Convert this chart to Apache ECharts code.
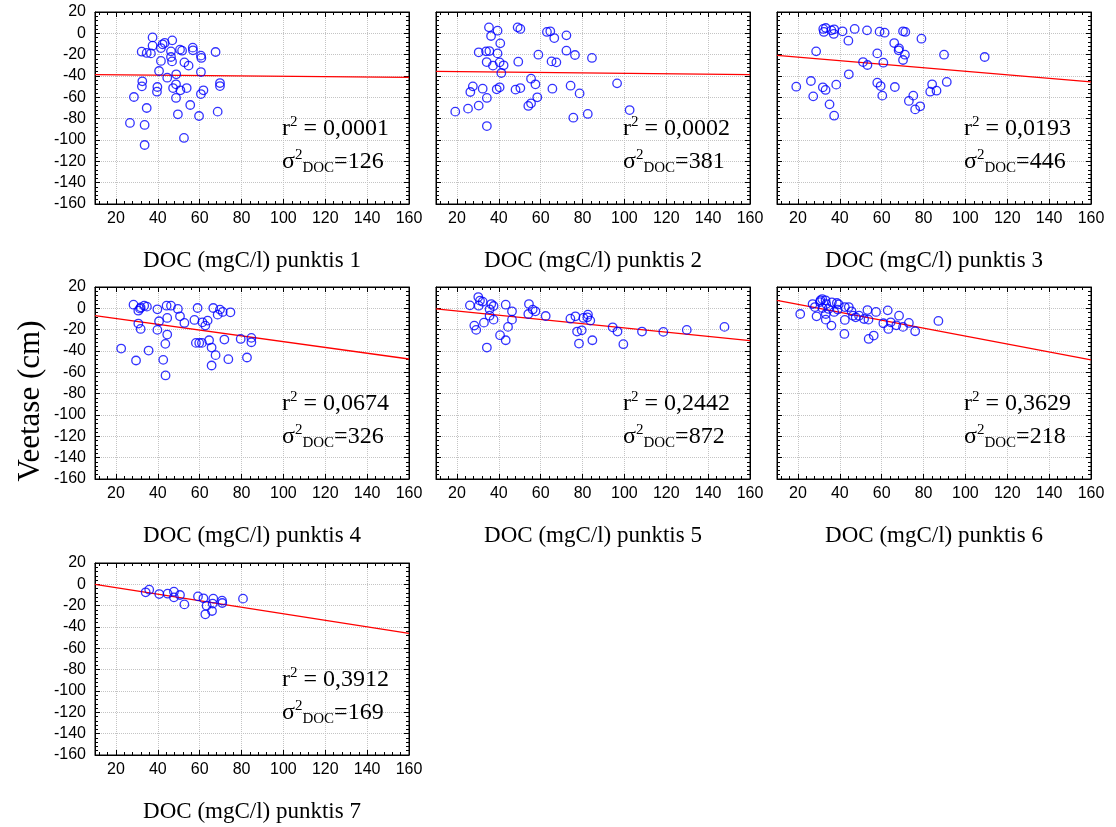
<!DOCTYPE html>
<html><head><meta charset="utf-8">
<script src="https://cdn.jsdelivr.net/npm/echarts@6/dist/echarts.min.js"></script>
<style>html,body{margin:0;padding:0;background:#fff}#c{width:1116px;height:827px}</style>
</head><body><div id="c"></div>
<script>
// ---------- data ----------
const xTickLabels = [20, 40, 60, 80, 100, 120, 140, 160];
const yTickLabels = [20, 0, -20, -40, -60, -80, -100, -120, -140, -160];
const xTitles = ['DOC (mgC/l) punktis 1','DOC (mgC/l) punktis 2','DOC (mgC/l) punktis 3','DOC (mgC/l) punktis 4','DOC (mgC/l) punktis 5','DOC (mgC/l) punktis 6','DOC (mgC/l) punktis 7'];
const yTitle = 'Veetase (cm)';
const r2Values = ['0,0001','0,0002','0,0193','0,0674','0,2442','0,3629','0,3912'];
const sigmaValues = ['126','381','446','326','872','218','169'];
const fitX = [10, 160];
const fit1 = [-38.8, -41.2];
const fit2 = [-35.6, -38.8];
const fit3 = [-20.6, -45.6];
const fit4 = [-6.9, -47.5];
const fit5 = [-0.6, -30.2];
const fit6 = [7.5, -48.4];
const fit7 = [0, -45.9];
const p1 = [[37.5,-3.8],[46.9,-6.6],[43.3,-9],[42.3,-10.3],[41.5,-13.8],[37.5,-11.6],[32.3,-17.2],[34.7,-18.4],[36.7,-18.8],[46.3,-16.9],[50.6,-15.3],[51.6,-16.3],[56.7,-13.4],[56.8,-15.9],[60.6,-20.9],[60.8,-23.1],[67.6,-17.5],[46.3,-22.2],[41.5,-25.9],[46.8,-26.3],[52.7,-27.2],[54.7,-30.3],[40.6,-35.3],[60.6,-36.3],[48.8,-38.4],[44.5,-41.6],[32.6,-45],[32.4,-49.7],[39.8,-50.3],[39.6,-54.7],[47.3,-51.3],[48.7,-47.8],[50.8,-53.4],[53.8,-51.3],[61.8,-53.4],[60.6,-56.9],[69.7,-46.6],[69.7,-49.4],[28.6,-59.7],[48.7,-60.6],[34.7,-70],[55.5,-67.2],[49.6,-75.9],[59.7,-77.5],[68.6,-73.4],[26.7,-84],[33.7,-85.9],[52.5,-98.1],[33.7,-104.7]];
const p2 = [[35.3,5.6],[39.4,2.5],[36.3,-2.5],[49,5.6],[50.3,4.1],[63,1.3],[64.6,1.9],[66.5,-4.4],[72.3,-1.9],[40.7,-9.4],[30.4,-17.8],[33.9,-16.9],[35.5,-16.6],[39.4,-18.8],[58.9,-20],[72.3,-16.3],[76.4,-20.3],[84.5,-23.1],[34.2,-26.9],[37.2,-30.3],[40.4,-27.2],[42.3,-30],[41.2,-37.2],[49.3,-26.6],[65.2,-26.3],[67.5,-27.2],[55.4,-42.5],[57.5,-47.8],[27.6,-49.7],[26.4,-55],[32.3,-51.9],[39,-52.5],[40.4,-50.6],[48,-52.8],[50.3,-51.3],[65.6,-51.9],[74.3,-49.1],[78.6,-56.3],[96.5,-46.9],[34.3,-60.6],[58.4,-60],[54.1,-68.1],[55.4,-65.6],[30.4,-67.8],[25.3,-70.6],[19.2,-73.4],[75.6,-79.1],[82.5,-75.6],[102.5,-71.9],[34.3,-86.9]];
const p3 = [[32.1,4.1],[33.3,5],[32.4,1.3],[36,2.8],[37.3,3.8],[37.1,-0.6],[41.3,1.9],[47.1,4.1],[53,2.8],[59,1.6],[61.4,0.6],[70.2,1.9],[71.3,1.3],[79,-5],[44.1,-6.9],[66,-9.1],[68.3,-14.1],[68.1,-15.9],[71.1,-20],[70.2,-25],[28.7,-16.9],[57.9,-18.8],[89.8,-20],[109.2,-22.2],[51.1,-26.9],[53.2,-29.7],[60.8,-27.5],[44.3,-38.4],[26.2,-44.7],[19.2,-50],[31.9,-50.6],[33.2,-53.1],[38.3,-48.1],[57.9,-46.3],[59.5,-49.4],[66.3,-50.3],[84.1,-47.8],[91.1,-45.6],[83.2,-54.7],[86.2,-53.8],[27.3,-59.1],[60.3,-58.4],[75.1,-58.4],[73,-63.4],[35.1,-66.6],[78.4,-68.4],[76,-71.3],[37.3,-77.2]];
const p4 = [[28.4,3.4],[30.7,-2.2],[31.8,0.9],[33.5,2.5],[34.8,1.6],[31.5,-0.3],[39.8,-0.9],[44.2,2.5],[46.3,2.5],[49.6,-0.6],[59,0.3],[66.5,0.3],[69.7,-1.2],[71,-3.4],[74.7,-3.7],[68.6,-5.9],[44.5,-9],[40.6,-12.1],[50.6,-7.5],[52.7,-13.7],[30.7,-14.3],[31.8,-19.3],[39.8,-20.2],[57.5,-10.9],[61.3,-13.1],[63.8,-11.5],[62.7,-16.2],[44.5,-24.6],[43.6,-33.3],[58.2,-32.4],[59.8,-32.4],[61.1,-32.4],[64.5,-29.9],[71.8,-29.3],[79.6,-28.7],[84.7,-27.7],[84.7,-31.8],[65.7,-36.8],[22.5,-37.7],[35.6,-39.6],[67.6,-43.9],[29.6,-48.9],[42.6,-48.3],[73.7,-47.7],[82.6,-46.1],[65.7,-53.6],[43.7,-62.9]];
const p5 = [[26.2,2.8],[30.2,10.6],[31,7.2],[32.3,6.2],[30.4,2.5],[36.4,4],[37.5,2.2],[35.6,-0.9],[43.3,3.4],[54.4,4],[46.3,-2.8],[56.2,-1.2],[57.5,-2.8],[54.1,-5.3],[62.4,-7.2],[35.6,-6.9],[37.5,-10.6],[46.3,-10.6],[32.9,-13.4],[28.3,-16.2],[29.2,-20.2],[44.4,-17.4],[40.6,-25.2],[43.3,-29.9],[34.3,-36.8],[74.2,-9.7],[76.6,-7.5],[80.4,-9],[82.6,-5.9],[82.3,-8.4],[83.7,-11.5],[77.4,-21.8],[79.6,-20.6],[78.3,-33],[84.7,-29.9],[94.4,-17.8],[96.7,-21.8],[99.5,-33.6],[108.4,-21.8],[118.6,-22.1],[129.8,-20.2],[147.8,-17.4]];
const p6 = [[21.1,-5.3],[27,4],[28.1,1.2],[30.8,7.5],[31.6,8.7],[30.5,5.9],[33.2,7.5],[33.5,4],[36.2,5.6],[38.6,5],[39.5,3.7],[42.4,1.2],[44.3,1.2],[31.7,0.3],[34.6,-0.6],[37.3,-3.4],[39,-1.2],[28.9,-7.5],[33.3,-5.3],[33.3,-10.6],[45.6,-2.8],[46.3,-6.9],[47.6,-8.4],[49.2,-6.9],[51.6,-10],[53.2,-1.6],[53.7,-10.6],[57.3,-3.4],[42.4,-10.9],[36,-16.2],[60.8,-14],[62.9,-1.9],[64.3,-13.1],[68.3,-6.9],[67,-15.9],[70.2,-17.4],[73,-13.7],[63.2,-19.3],[76,-21.5],[42.2,-24],[56.2,-25.5],[53.8,-28.7],[87.1,-11.8]];
const p7 = [[34.2,-7.5],[35.9,-5],[40.7,-9.1],[44.7,-8.8],[47.7,-6.9],[47.7,-12.2],[50.6,-10],[52.7,-18.8],[59.2,-11.3],[61.8,-13.1],[63.3,-20],[66.5,-13.4],[66.2,-18.1],[65.9,-25],[62.7,-28.1],[70.7,-15.3],[70.8,-17.5],[80.7,-13.4]];

const points = [p1, p2, p3, p4, p5, p6, p7];
const fits = [fit1, fit2, fit3, fit4, fit5, fit6, fit7];

// ---------- layout ----------
const colLeft = [95, 436, 777];
const rowTop = [12, 287, 563];
const PW = 314, PH = 192;
const cells = [[0,0],[0,1],[0,2],[1,0],[1,1],[1,2],[2,0]];
const xMin = 10, xMax = 160, yMin = -160, yMax = 20;
const xMinor = [];
for (let v = 12; v < xMax; v += 4) if (v % 20 !== 0) xMinor.push(v);

const serif = '"Liberation Serif", "Times New Roman", serif';
const sans = '"Liberation Sans", Arial, sans-serif';

const grids = [], xAxes = [], yAxes = [], series = [], graphics = [];
cells.forEach(([r, c], i) => {
  const left = colLeft[c], top = rowTop[r];
  grids.push({left, top, width: PW, height: PH, show: true, borderColor: '#000', borderWidth: 1, backgroundColor: '#fff'});
  const xMain = xAxes.length;
  const baseX = {gridIndex: i, type: 'value', min: xMin, max: xMax};
  xAxes.push(Object.assign({}, baseX, {
    position: 'bottom',
    axisLine: {show: true, onZero: false, lineStyle: {color: '#000', width: 1}},
    axisTick: {show: true, inside: true, length: 5, customValues: xTickLabels, lineStyle: {color: '#000'}},
    axisLabel: {show: true, customValues: xTickLabels, color: '#000', fontSize: 16, fontFamily: sans, margin: 7},
    splitLine: {show: true, lineStyle: {color: '#c4c4c4', type: 'dotted', width: 1}}
  }));
  xAxes.push(Object.assign({}, baseX, {
    position: 'bottom',
    axisLine: {show: false, onZero: false},
    axisTick: {show: true, inside: true, length: 3, customValues: xMinor, lineStyle: {color: '#000'}},
    axisLabel: {show: false}, splitLine: {show: false}
  }));
  xAxes.push(Object.assign({}, baseX, {
    position: 'top',
    axisLine: {show: true, onZero: false, lineStyle: {color: '#000', width: 1}},
    axisTick: {show: true, inside: true, length: 5, customValues: xTickLabels, lineStyle: {color: '#000'}},
    axisLabel: {show: false}, splitLine: {show: false}
  }));
  xAxes.push(Object.assign({}, baseX, {
    position: 'top',
    axisLine: {show: false, onZero: false},
    axisTick: {show: true, inside: true, length: 3, customValues: xMinor, lineStyle: {color: '#000'}},
    axisLabel: {show: false}, splitLine: {show: false}
  }));
  const yMain = yAxes.length;
  const baseY = {gridIndex: i, type: 'value', min: yMin, max: yMax, interval: 20};
  yAxes.push(Object.assign({}, baseY, {
    position: 'left',
    axisLine: {show: true, onZero: false, lineStyle: {color: '#000', width: 1}},
    axisTick: {show: true, inside: true, length: 5, lineStyle: {color: '#000'}},
    minorTick: {show: true, splitNumber: 5, length: 3, lineStyle: {color: '#000'}},
    axisLabel: {show: c === 0, color: '#000', fontSize: 16, fontFamily: sans, margin: 9},
    splitLine: {show: true, lineStyle: {color: '#c4c4c4', type: 'dotted', width: 1}}
  }));
  yAxes.push(Object.assign({}, baseY, {
    position: 'right',
    axisLine: {show: true, onZero: false, lineStyle: {color: '#000', width: 1}},
    axisTick: {show: true, inside: true, length: 5, lineStyle: {color: '#000'}},
    minorTick: {show: true, splitNumber: 5, length: 3, lineStyle: {color: '#000'}},
    axisLabel: {show: false}, splitLine: {show: false}
  }));
  series.push({
    type: 'line', xAxisIndex: xMain, yAxisIndex: yMain,
    data: fitX.map((x, k) => [x, fits[i][k]]),
    symbol: 'none', silent: true, z: 3,
    lineStyle: {color: '#ff0000', width: 1.3}
  });
  series.push({
    type: 'scatter', xAxisIndex: xMain, yAxisIndex: yMain,
    data: points[i], symbol: 'circle', symbolSize: 8.5, z: 4,
    itemStyle: {color: 'rgba(255,255,255,0)', borderColor: '#0000ff', borderWidth: 1.3}
  });
  // annotations
  graphics.push({
    type: 'text', left: left + 187, top: top + 103, z: 10,
    style: {
      text: '{n|r}{sup|2}{n| = ' + r2Values[i] + '}',
      rich: {
        n: {font: '24px ' + serif, fill: '#000', lineHeight: 28},
        sup: {font: '15px ' + serif, fill: '#000', lineHeight: 14, verticalAlign: 'top'}
      }
    }
  });
  graphics.push({
    type: 'text', left: left + 187, top: top + 136, z: 10,
    style: {
      text: '{n|\u03c3}{sup|2}{sub|DOC}{n|=' + sigmaValues[i] + '}',
      rich: {
        n: {font: '24px ' + serif, fill: '#000', lineHeight: 28},
        sup: {font: '15px ' + serif, fill: '#000', lineHeight: 14, verticalAlign: 'top'},
        sub: {font: '15px ' + serif, fill: '#000', lineHeight: 14, verticalAlign: 'bottom'}
      }
    }
  });
  graphics.push({
    type: 'text', x: left + PW / 2, y: top + PH + 57, z: 10,
    style: {text: xTitles[i], font: '23px ' + serif, fill: '#000', textAlign: 'center', textVerticalAlign: 'middle', align: 'center', verticalAlign: 'middle'}
  });
});
graphics.push({
  type: 'text', x: 31, y: 401, rotation: Math.PI / 2, z: 10,
  style: {text: yTitle, font: '31px ' + serif, fill: '#000', textAlign: 'center', textVerticalAlign: 'middle', align: 'center', verticalAlign: 'middle'}
});

const chart = echarts.init(document.getElementById('c'), null, {renderer: 'canvas'});
chart.setOption({
  animation: false,
  backgroundColor: '#fff',
  grid: grids, xAxis: xAxes, yAxis: yAxes, series: series, graphic: graphics
});
</script></body></html>
